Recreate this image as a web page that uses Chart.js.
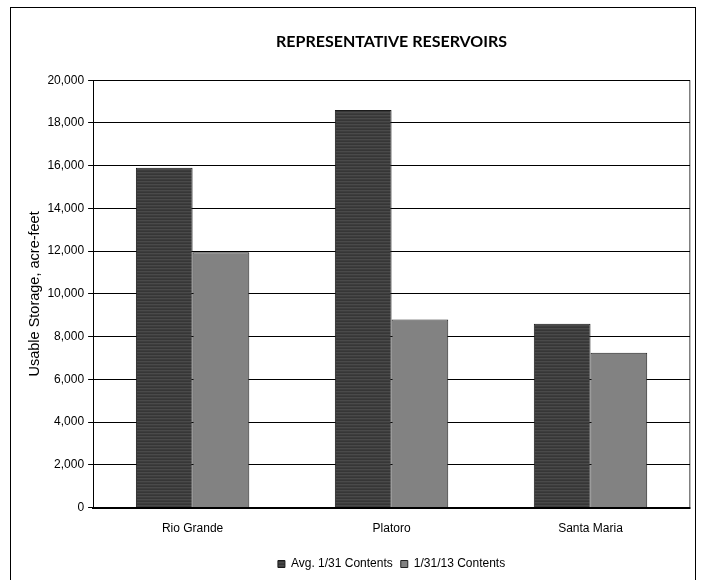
<!DOCTYPE html>
<html>
<head>
<meta charset="utf-8">
<script src="https://cdn.jsdelivr.net/npm/chart.js@4.4.1/dist/chart.umd.min.js"></script>
<style>
    html, body { margin: 0; padding: 0; background: #fff; overflow: hidden; }
    #wrap { position: relative; width: 702px; height: 580px; }
    #frame {
        position: absolute; left: 10px; top: 7px; width: 686px; height: 620px;
        border: 1px solid #000; box-sizing: border-box; pointer-events: none;
    }
    canvas { position: absolute; left: 0; top: 0; }
</style>
</head>
<body>
<div id="wrap">
    <canvas id="reservoirChart" width="702" height="580"></canvas>
    <div id="frame"></div>
</div>
<script>
// chart data
var reservoirs = ["Rio Grande", "Platoro", "Santa Maria"];
var seriesNames = ["Avg. 1/31 Contents", "1/31/13 Contents"];
var avgContents = [15900, 18600, 8600];
var currentContents = [11950, 8800, 7250];
var yMin = 0;
var yMax = 20000;
var yStep = 2000;

// striped fill for the average bars
function stripePattern() {
    var c = document.createElement("canvas");
    c.width = 4;
    c.height = 3;
    var g = c.getContext("2d");
    g.fillStyle = "#363636";
    g.fillRect(0, 0, 4, 1);
    g.fillStyle = "#4a4a4a";
    g.fillRect(0, 1, 4, 1);
    g.fillStyle = "#3d3d3d";
    g.fillRect(0, 2, 4, 1);
    return g.createPattern(c, "repeat");
}

Chart.defaults.font.family = "'Liberation Sans', Arial, sans-serif";
Chart.defaults.font.size = 12;
Chart.defaults.color = "#000";

var ctx = document.getElementById("reservoirChart").getContext("2d");
var chart = new Chart(ctx, {
    type: "bar",
    data: {
        labels: reservoirs,
        datasets: [
            {
                label: seriesNames[0],
                data: avgContents,
                backgroundColor: stripePattern(),
                borderColor: "#1a1a1a",
                borderWidth: 1
            },
            {
                label: seriesNames[1],
                data: currentContents,
                backgroundColor: "#828282",
                borderColor: "#222",
                borderWidth: 1
            }
        ]
    },
    options: {
        responsive: false,
        animation: false,
        layout: { padding: { left: 18, right: 12, top: 0, bottom: 0 } },
        datasets: {
            bar: { categoryPercentage: 0.57, barPercentage: 1.0 }
        },
        plugins: {
            title: {
                display: true,
                text: "REPRESENTATIVE RESERVOIRS",
                fullSize: false,
                color: "#000",
                font: { family: "Lato, 'Liberation Sans', sans-serif", size: 16, weight: "bold" },
                padding: { top: 32, bottom: 29 }
            },
            legend: {
                position: "bottom",
                fullSize: false,
                labels: {
                    boxWidth: 7,
                    boxHeight: 7,
                    padding: 8,
                    color: "#000",
                    font: { size: 12 }
                }
            },
            tooltip: { enabled: false }
        },
        scales: {
            x: {
                grid: {
                    drawTicks: false,
                    // only the right-hand edge of the plot gets a line
                    color: function (c) { return c.type === "scale" ? "#808080" : "rgba(0,0,0,0)"; },
                    lineWidth: 1.5
                },
                border: { color: "#000", width: 2 },
                ticks: { padding: 14, color: "#000", font: { size: 12 } }
            },
            y: {
                min: yMin,
                max: yMax,
                ticks: {
                    stepSize: yStep,
                    padding: 4,
                    color: "#000",
                    font: { size: 12 },
                    callback: function (v) { return v.toLocaleString("en-US"); }
                },
                grid: { color: "#000", lineWidth: 1, tickLength: 5, tickColor: "#000" },
                border: { color: "#000", width: 1 },
                title: {
                    display: true,
                    text: "Usable Storage, acre-feet",
                    color: "#000",
                    font: { size: 14.5 },
                    padding: { top: 8, bottom: 0 }
                }
            }
        }
    }
});
</script>
</body>
</html>
